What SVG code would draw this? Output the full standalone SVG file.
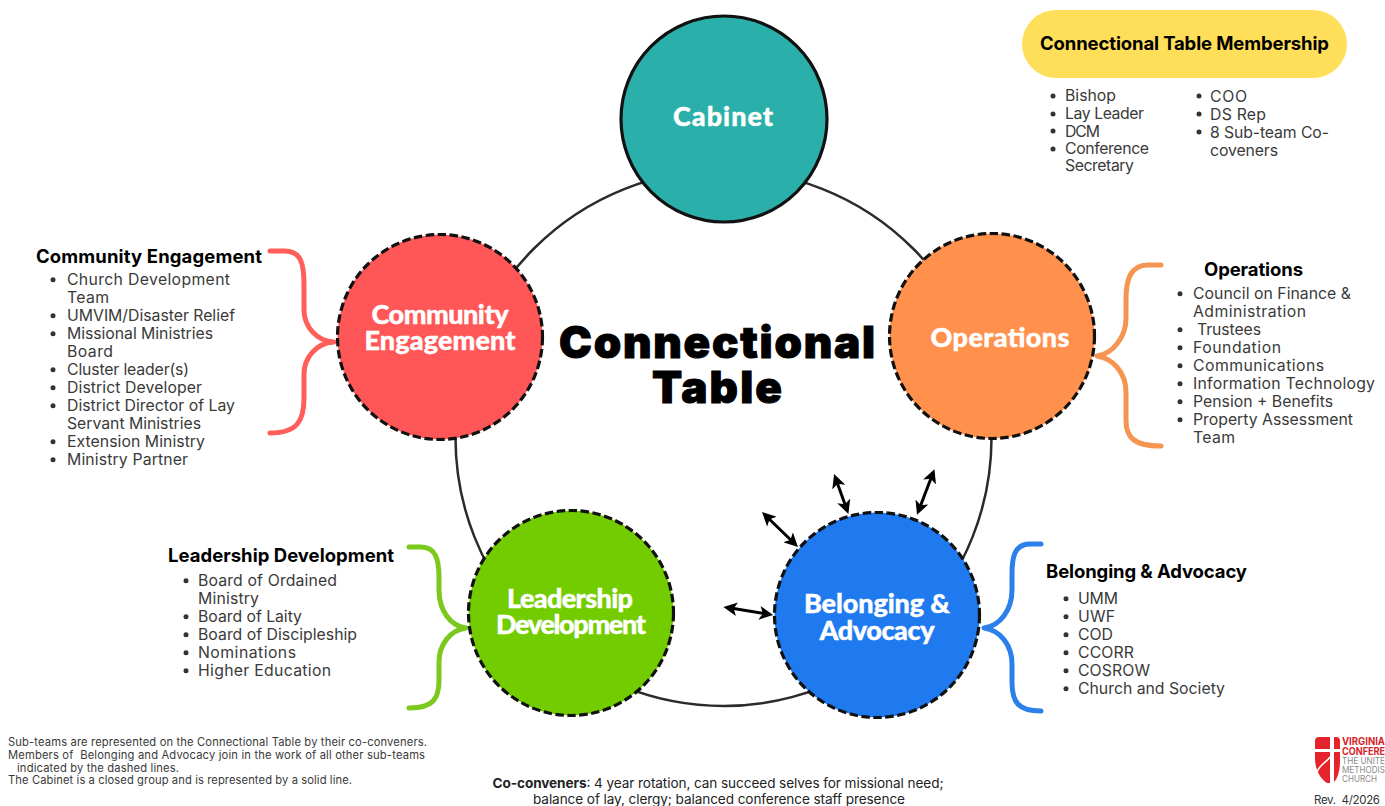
<svg xmlns="http://www.w3.org/2000/svg" width="1385" height="806" viewBox="0 0 1385 806">
<style>
text{font-family:"Inter","Liberation Sans",sans-serif;fill:#222;white-space:pre}
.l{font-size:15.8px;fill:#3a3a3a}
.h{font-size:18.5px;font-weight:700;fill:#000}
.n{font-family:"Lato","Liberation Sans",sans-serif;font-size:27px;font-weight:900;fill:#fff;text-anchor:middle;stroke:#fff;stroke-width:.4}
.big{font-family:"Inter","Liberation Sans",sans-serif;font-size:44px;font-weight:900;fill:#000;text-anchor:middle;stroke:#000;stroke-width:1}
.s{font-size:11.2px;fill:#3a3a3a}
.c{font-size:13.6px;fill:#222;text-anchor:middle}
.node{stroke:#111;stroke-width:3.2;stroke-dasharray:8.5 3.5}
.brace{fill:none;stroke-width:5;stroke-linecap:round;stroke-linejoin:round}
.ar{fill:none;stroke:#000;stroke-width:3;marker-start:url(#a);marker-end:url(#a)}
.b{fill:#333}
.lr{font-size:10px;font-weight:700;fill:#D8232A}
.lg{font-size:9.5px;fill:#8a8a8a}
</style>
<defs>
<marker id="a" viewBox="0 0 10 10" refX="7" refY="5" markerWidth="4.6" markerHeight="4.6" orient="auto-start-reverse" markerUnits="strokeWidth"><path d="M0 0L10 5L0 10L2.5 5Z" fill="#000"/></marker>
</defs>
<rect width="1385" height="806" fill="#fff"/>
<g id="connectors">
<circle cx="723.5" cy="438" r="268" fill="none" stroke="#2b2b2b" stroke-width="2.5"/>
<path class="ar" d="M765 515L795 544"/>
<path class="ar" d="M835.500 478L847 510"/>
<path class="ar" d="M933 473L918.500 511"/>
<path class="ar" d="M727.500 607.600L769 614.400"/>
<path class="brace" stroke="#FF5F5B" d="M270 251H285C302 251 304 266 304 285V310C304 326 316 341 334 342C316 343 304 358 304 374V398C304 420 298 433 270 433"/>
<path class="brace" stroke="#F59552" d="M1161 265H1148C1130 265 1126 280 1126 300V318C1126 338 1112 354 1097 356C1112 358 1126 372 1126 392V420C1126 436 1132 446 1161 446"/>
<path class="brace" stroke="#7BC91C" d="M409 547H421C436 547 439 560 439 578V590C439 610 450 626 466 628C450 630 439 645 439 662V680C439 698 434 708 409 708"/>
<path class="brace" stroke="#2C80EA" d="M1041 544H1030C1014 544 1012 558 1012 574V590C1012 610 1000 626 984 628C1000 630 1012 645 1012 664V682C1012 702 1018 711 1041 711"/>
</g>
<g id="cabinet"><circle cx="724" cy="119" r="103" fill="#2BAFAA" stroke="#111" stroke-width="3.2"/><text class="n" x="723" y="126" textLength="100">Cabinet</text></g>
<g id="community-engagement"><circle class="node" cx="440" cy="337" r="102.500" fill="#FF5757"/><text class="n" x="440" y="324" textLength="137">Community</text><text class="n" x="440" y="350" textLength="151">Engagement</text></g>
<g id="operations"><circle class="node" cx="992" cy="336" r="102.500" fill="#FF914D"/><text class="n" x="1000" y="347" textLength="139">Operations</text></g>
<g id="leadership-development"><circle class="node" cx="571" cy="613" r="102.500" fill="#73CC00"/><text class="n" x="570" y="608" textLength="126">Leadership</text><text class="n" x="571" y="634" textLength="150">Development</text></g>
<g id="belonging-advocacy"><circle class="node" cx="877" cy="615" r="102.500" fill="#1F7AF0"/><text class="n" x="877" y="613" textLength="146">Belonging &amp;</text><text class="n" x="877" y="640" textLength="115">Advocacy</text></g>
<g id="title"><text class="big" x="717" y="358" textLength="316">Connectional</text><text class="big" x="717" y="403" textLength="130">Table</text></g>
<g id="membership">
<rect x="1022" y="10" width="325" height="68" rx="34" fill="#FFDE59"/>
<text class="h" x="1040" y="50" textLength="289">Connectional Table Membership</text>
<circle class="b" cx="1053" cy="96" r="2.500"/><text class="l" x="1065" y="101" textLength="51">Bishop</text>
<circle class="b" cx="1053" cy="114" r="2.500"/><text class="l" x="1065" y="119" textLength="79">Lay Leader</text>
<circle class="b" cx="1053" cy="131" r="2.500"/><text class="l" x="1065" y="136.500" textLength="35">DCM</text>
<circle class="b" cx="1053" cy="149" r="2.500"/><text class="l" x="1065" y="154" textLength="84">Conference</text>
<text class="l" x="1065" y="171" textLength="69">Secretary</text>
<circle class="b" cx="1199" cy="96" r="2.500"/><text class="l" x="1210" y="102" textLength="37">COO</text>
<circle class="b" cx="1199" cy="114" r="2.500"/><text class="l" x="1210" y="120" textLength="56">DS Rep</text>
<circle class="b" cx="1199" cy="132" r="2.500"/><text class="l" x="1210" y="138" textLength="119">8 Sub-team Co-</text>
<text class="l" x="1210" y="156" textLength="68">coveners</text>
</g>
<g id="community-list" transform="translate(0 .7)">
<text class="h" x="36" y="262" textLength="226">Community Engagement</text>
<circle class="b" cx="53" cy="279" r="2.500"/><text class="l" x="67" y="284" textLength="163">Church Development</text>
<text class="l" x="67" y="302" textLength="42">Team</text>
<circle class="b" cx="53" cy="315" r="2.500"/><text class="l" x="67" y="320" textLength="168">UMVIM/Disaster Relief</text>
<circle class="b" cx="53" cy="333" r="2.500"/><text class="l" x="67" y="338" textLength="146">Missional Ministries</text>
<text class="l" x="67" y="356" textLength="46">Board</text>
<circle class="b" cx="53" cy="369" r="2.500"/><text class="l" x="67" y="374" textLength="122">Cluster leader(s)</text>
<circle class="b" cx="53" cy="387" r="2.500"/><text class="l" x="67" y="392" textLength="135">District Developer</text>
<circle class="b" cx="53" cy="405" r="2.500"/><text class="l" x="67" y="410" textLength="168">District Director of Lay</text>
<text class="l" x="67" y="428" textLength="134">Servant Ministries</text>
<circle class="b" cx="53" cy="441" r="2.500"/><text class="l" x="67" y="446" textLength="138">Extension Ministry</text>
<circle class="b" cx="53" cy="459" r="2.500"/><text class="l" x="67" y="464" textLength="121">Ministry Partner</text>
</g>
<g id="operations-list" transform="translate(0 .7)">
<text class="h" x="1204" y="275" textLength="99">Operations</text>
<circle class="b" cx="1180" cy="293" r="2.500"/><text class="l" x="1193" y="298" textLength="158">Council on Finance &amp;</text>
<text class="l" x="1193" y="316" textLength="113">Administration</text>
<circle class="b" cx="1180" cy="329" r="2.500"/><text class="l" x="1197" y="334" textLength="64">Trustees</text>
<circle class="b" cx="1180" cy="347" r="2.500"/><text class="l" x="1193" y="352" textLength="88">Foundation</text>
<circle class="b" cx="1180" cy="365" r="2.500"/><text class="l" x="1193" y="370" textLength="131">Communications</text>
<circle class="b" cx="1180" cy="383" r="2.500"/><text class="l" x="1193" y="388" textLength="182">Information Technology</text>
<circle class="b" cx="1180" cy="401" r="2.500"/><text class="l" x="1193" y="406" textLength="140">Pension + Benefits</text>
<circle class="b" cx="1180" cy="419" r="2.500"/><text class="l" x="1193" y="424" textLength="160">Property Assessment</text>
<text class="l" x="1193" y="442" textLength="42">Team</text>
</g>
<g id="leadership-list" transform="translate(0 .7)">
<text class="h" x="168" y="561" textLength="226">Leadership Development</text>
<circle class="b" cx="186" cy="580" r="2.500"/><text class="l" x="198" y="585" textLength="139">Board of Ordained</text>
<text class="l" x="198" y="603" textLength="61">Ministry</text>
<circle class="b" cx="186" cy="616" r="2.500"/><text class="l" x="198" y="621" textLength="104">Board of Laity</text>
<circle class="b" cx="186" cy="634" r="2.500"/><text class="l" x="198" y="639" textLength="159">Board of Discipleship</text>
<circle class="b" cx="186" cy="652" r="2.500"/><text class="l" x="198" y="657" textLength="98">Nominations</text>
<circle class="b" cx="186" cy="670" r="2.500"/><text class="l" x="198" y="675" textLength="133">Higher Education</text>
</g>
<g id="belonging-list" transform="translate(0 .7)">
<text class="h" x="1046" y="577" textLength="201">Belonging &amp; Advocacy</text>
<circle class="b" cx="1066" cy="598" r="2.500"/><text class="l" x="1078" y="603" textLength="40">UMM</text>
<circle class="b" cx="1066" cy="616" r="2.500"/><text class="l" x="1078" y="621" textLength="37">UWF</text>
<circle class="b" cx="1066" cy="634" r="2.500"/><text class="l" x="1078" y="639" textLength="35">COD</text>
<circle class="b" cx="1066" cy="652" r="2.500"/><text class="l" x="1078" y="657" textLength="56">CCORR</text>
<circle class="b" cx="1066" cy="670" r="2.500"/><text class="l" x="1078" y="675" textLength="72">COSROW</text>
<circle class="b" cx="1066" cy="688" r="2.500"/><text class="l" x="1078" y="693" textLength="147">Church and Society</text>
</g>
<g id="notes">
<text class="s" x="8" y="746" textLength="419">Sub-teams are represented on the Connectional Table by their co-conveners.</text>
<text class="s" x="8" y="759" textLength="417">Members of  Belonging and Advocacy join in the work of all other sub-teams</text>
<text class="s" x="17" y="772" textLength="162">indicated by the dashed lines.</text>
<text class="s" x="8" y="784" textLength="344">The Cabinet is a closed group and is represented by a solid line.</text>
<text class="c" x="718" y="788" textLength="451"><tspan font-weight="700">Co-conveners</tspan>: 4 year rotation, can succeed selves for missional need;</text>
<text class="c" x="719" y="804" textLength="372">balance of lay, clergy; balanced conference staff presence</text>
</g>
<g id="logo">
<path d="M1319 737H1330V749H1315V741Q1315 737 1319 737Z" fill="#E4232C"/>
<path d="M1334 737H1336Q1340 737 1340 741V749H1334Z" fill="#E4232C"/>
<path d="M1315 752H1330V783H1327C1319 778 1315 768 1315 758Z" fill="#E4232C"/>
<path d="M1334 752H1340V760C1340 770 1338 778 1334 782Z" fill="#E4232C"/>
<path d="M1317 772C1320 764 1327 762 1330 757" stroke="#fff" stroke-width="1.500" fill="none"/>
<text xml:space="preserve"><tspan class="lr" x="1342" y="745" textLength="43" lengthAdjust="spacingAndGlyphs">VIRGINIA</tspan><tspan class="lr" x="1342" y="754.500" textLength="43" lengthAdjust="spacingAndGlyphs">CONFERE</tspan><tspan class="lg" x="1342" y="763.500" textLength="43" lengthAdjust="spacingAndGlyphs">THE UNITE</tspan><tspan class="lg" x="1342" y="772.500" textLength="43" lengthAdjust="spacingAndGlyphs">METHODIS</tspan><tspan class="lg" x="1342" y="782" textLength="35" lengthAdjust="spacingAndGlyphs">CHURCH</tspan></text>
<text x="1314" y="803.500" font-size="11.500" textLength="66" style="fill:#333">Rev.  4/2026</text>
</g>
</svg>
